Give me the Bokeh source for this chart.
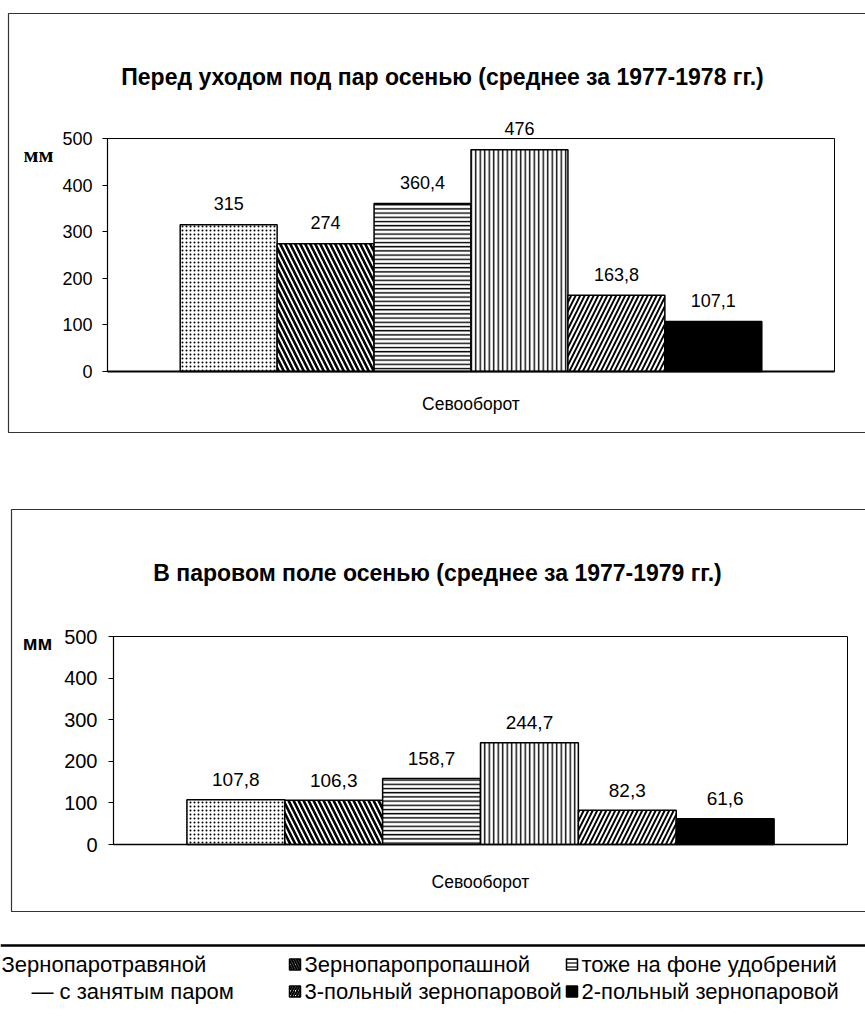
from bokeh.plotting import figure
from bokeh.models import (ColumnDataSource, Range1d, FixedTicker, LabelSet, Label, Span,
                          LinearAxis)
from bokeh.embed import file_html
from bokeh.resources import INLINE
from bokeh.core.properties import value

# ---------------- data ----------------
series = ["Зернопаротравяной", "Зернопаропропашной", "тоже на фоне удобрений",
          "— с занятым паром", "3-польный зернопаровой", "2-польный зернопаровой"]
before_fallow = [315, 274, 360.4, 476, 163.8, 107.1]      # перед уходом под пар, мм
fallow_field = [107.8, 106.3, 158.7, 244.7, 82.3, 61.6]    # в паровом поле, мм
category = "Севооборот"
y_ticks = [0, 100, 200, 300, 400, 500]
title1 = "Перед уходом под пар осенью (среднее за 1977-1978 гг.)"
title2 = "В паровом поле осенью (среднее за 1977-1979 гг.)"
unit = "мм"

# ---------------- styles / layout (page pixels) ----------------
hatch = ["dot", "left_diagonal_line", "horizontal_line", "vertical_line", "right_diagonal_line", " "]
hatch_scale = [4, 10, 4.2, 4.5, 9, 4]
hatch_weight = [1, 2.6, 1.4, 1.4, 1.9, 1]
fills = ["white", "white", "white", "white", "white", "black"]
FONT = "Liberation Sans"
W, H = 865, 1019

n = len(series)
group = 0.8
bar_w = group / n
xs = [0.5 - group / 2 + (i + 0.5) * bar_w for i in range(n)]


def fmt(v):
    return f"{v:g}".replace(".", ",")


def x_range_for(left_px, right_px, lo=0.0, hi=1.0):
    k = (hi - lo) / (right_px - left_px)
    start = lo - left_px * k
    return Range1d(start, start + W * k)


def y_range_for(top_px, bottom_px, lo=0.0, hi=500.0):
    k = (hi - lo) / (bottom_px - top_px)
    end = hi + top_px * k
    return Range1d(end - H * k, end)


p = figure(width=W, height=H, x_range=Range1d(0, W), y_range=Range1d(H, 0),
           x_axis_type=None, y_axis_type=None, output_backend="svg", toolbar_location=None,
           min_border=0)
p.grid.visible = False
p.outline_line_color = None
p.background_fill_color = "white"
p.border_fill_color = "white"

charts = [
    dict(name="c1", values=before_fallow, title=title1, area=(107, 834, 138, 371),
         tick_size="18px", lab_size="18px", lab_off=21, cat_size="17.5px", cat_standoff=22,
         ystand=10, title_xy=(442, 76), unit_xy=(38, 154), unit_font="Liberation Serif",
         unit_style="bold", unit_size="22px", box=(8, 13, 900, 432), xaxis_w=2),
    dict(name="c2", values=fallow_field, title=title2, area=(113, 847, 636, 844),
         tick_size="20px", lab_size="19px", lab_off=20, cat_size="17.5px", cat_standoff=27,
         ystand=11, title_xy=(437, 572), unit_xy=(37, 642), unit_font=FONT,
         unit_style="bold", unit_size="20px", box=(11, 509, 900, 911), xaxis_w=1.5),
]

for c in charts:
    nm = c["name"]
    l, r, t, b = c["area"]
    p.extra_x_ranges[nm + "x"] = x_range_for(l, r)
    p.extra_y_ranges[nm + "y"] = y_range_for(t, b)
    xr, yr = nm + "x", nm + "y"

    # outer box of the chart (page coords)
    bx = c["box"]
    p.quad(left=[bx[0]], right=[bx[2]], top=[bx[1]], bottom=[bx[3]], fill_color=None,
           line_color="#333333", line_width=1.2)

    # plot area border
    p.quad(left=[0], right=[1], bottom=[0], top=[500], fill_color=None, line_color="black",
           line_width=1, x_range_name=xr, y_range_name=yr)

    src = ColumnDataSource(dict(x=xs, top=c["values"], lab=[fmt(v) for v in c["values"]],
                                hatch=hatch, hs=hatch_scale, hw=hatch_weight, fill=fills))
    p.vbar(x="x", top="top", bottom=0, width=bar_w, source=src, fill_color="fill",
           line_color="black", line_width=1.5, hatch_pattern="hatch", hatch_scale="hs",
           hatch_weight="hw", hatch_color="black", x_range_name=xr, y_range_name=yr)
    p.add_layout(LabelSet(x="x", y="top", text="lab", source=src, y_offset=c["lab_off"],
                          text_align="center", text_baseline="middle",
                          text_font=value(FONT), text_font_size=c["lab_size"],
                          text_color="black", x_range_name=xr, y_range_name=yr))

    ya = LinearAxis(x_range_name=xr, y_range_name=yr, fixed_location=0, bounds=(0, 500),
                    ticker=FixedTicker(ticks=y_ticks))
    ya.major_tick_out = 5
    ya.major_tick_in = 0
    ya.minor_tick_out = 0
    ya.minor_tick_in = 0
    ya.axis_line_color = "black"
    ya.axis_line_width = 1.2
    ya.major_tick_line_color = "black"
    ya.major_label_standoff = c["ystand"]
    ya.major_label_text_font = FONT
    ya.major_label_text_font_size = c["tick_size"]
    ya.major_label_text_color = "black"
    p.add_layout(ya, "left")

    xa = LinearAxis(x_range_name=xr, y_range_name=yr, fixed_location=0, bounds=(0, 1),
                    ticker=FixedTicker(ticks=[0.5]))
    xa.major_label_overrides = {0.5: category}
    xa.major_tick_out = 0
    xa.major_tick_in = 0
    xa.minor_tick_out = 0
    xa.minor_tick_in = 0
    xa.axis_line_color = "black"
    xa.axis_line_width = c["xaxis_w"]
    xa.major_label_standoff = c["cat_standoff"]
    xa.major_label_text_font = FONT
    xa.major_label_text_font_size = c["cat_size"]
    xa.major_label_text_color = "black"
    p.add_layout(xa, "below")

    p.add_layout(Label(x=c["title_xy"][0], y=c["title_xy"][1], text=c["title"],
                       text_align="center", text_baseline="middle", text_font=FONT,
                       text_font_style="bold", text_font_size="23px", text_color="black"))
    p.add_layout(Label(x=c["unit_xy"][0], y=c["unit_xy"][1], text=unit,
                       text_align="center", text_baseline="middle", text_font=c["unit_font"],
                       text_font_style=c["unit_style"], text_font_size=c["unit_size"],
                       text_color="black"))

# ---------------- legend (page coords) ----------------
col_x = [-14, 289, 566]
row_y = [964, 991]
indent = [0, 0, 0, 30, 0, 0]
sw_x = [col_x[i % 3] + 5.5 for i in range(n)]
sw_y = [row_y[i // 3] for i in range(n)]
tx = [col_x[i % 3] + 15 + indent[i] for i in range(n)]
lsrc = ColumnDataSource(dict(x=sw_x, y=sw_y, tx=tx, name=series, hatch=hatch,
                             hs=[3, 5, 4, 3, 5, 3], hw=[1, 2, 1.2, 1, 2, 1], fill=fills))
p.rect(x="x", y="y", width=11, height=11, source=lsrc, fill_color="fill", line_color="black",
       line_width=1.5, hatch_pattern="hatch", hatch_scale="hs", hatch_weight="hw",
       hatch_color="black")
p.text(x="tx", y="y", text="name", source=lsrc, text_baseline="middle", text_align="left",
       text_font=value(FONT), text_font_size="22px", text_color="black")
p.add_layout(Span(location=945, dimension="width", line_color="black", line_width=2.5))

open("out.html", "w").write(file_html(p, INLINE))
